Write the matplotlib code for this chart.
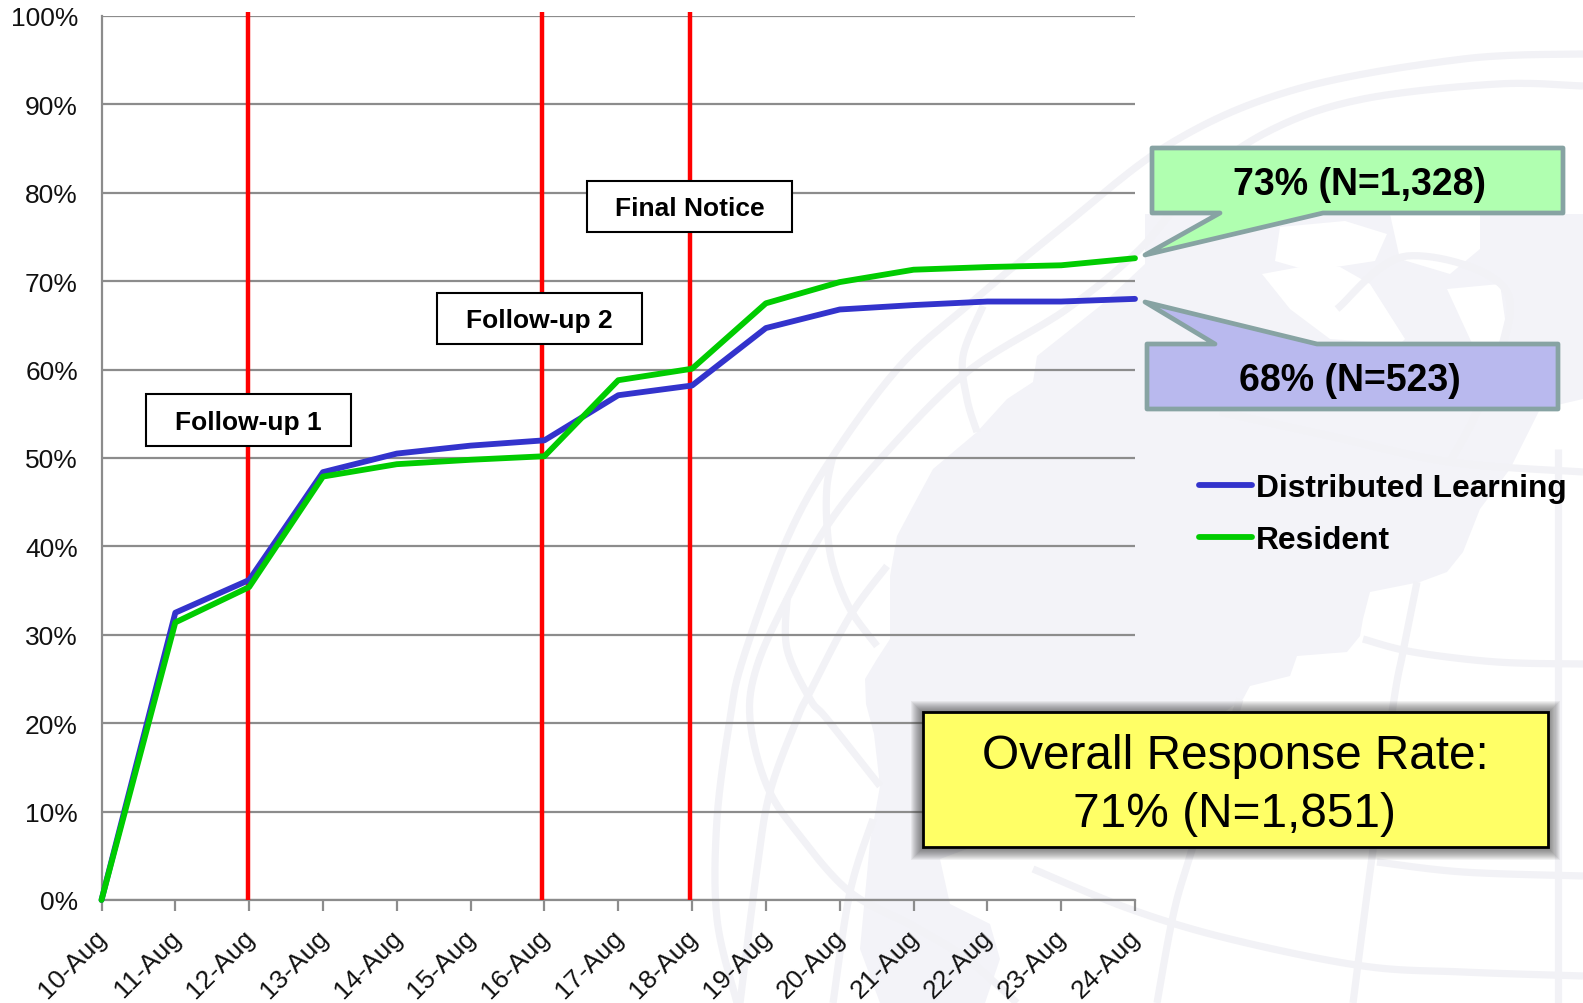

import matplotlib
matplotlib.use("Agg")
import matplotlib.pyplot as plt
from matplotlib.patches import Polygon, Rectangle
from matplotlib.ticker import FixedLocator
from matplotlib.transforms import Affine2D
import numpy as np

plt.rcParams['font.family'] = ['Liberation Sans', 'DejaVu Sans']

dates = ['10-Aug','11-Aug','12-Aug','13-Aug','14-Aug','15-Aug','16-Aug','17-Aug','18-Aug',
         '19-Aug','20-Aug','21-Aug','22-Aug','23-Aug','24-Aug']
distributed = [0, 32.5, 36.2, 48.4, 50.5, 51.4, 52.0, 57.1, 58.2, 64.7, 66.8, 67.3, 67.7, 67.7, 68.0]
resident    = [0, 31.4, 35.4, 47.9, 49.3, 49.8, 50.2, 58.8, 60.1, 67.5, 69.9, 71.3, 71.6, 71.8, 72.6]
followup_pos = [1.99, 5.97, 7.97]
followup_names = ['Follow-up 1', 'Follow-up 2', 'Final Notice']
yticks = list(range(0, 101, 10))

W, H = 1583, 1004
fig = plt.figure(figsize=(W/100, H/100), dpi=100, facecolor='white')

# ---- faint globe watermark, in figure pixels (y down) ----
bg = fig.add_axes([0, 0, 1, 1], zorder=0)
bg.set_xlim(0, W); bg.set_ylim(H, 0); bg.axis('off')
GL = '#f3f3f8'
BAND = '#f2f2f6'

def smooth(pts, n=16):
    p = np.array([pts[0]] + list(pts) + [pts[-1]], dtype=float)
    out = []
    for i in range(1, len(p) - 2):
        for t in np.linspace(0, 1, n, endpoint=False):
            out.append(0.5 * (2*p[i] + (p[i+1]-p[i-1])*t + (2*p[i-1]-5*p[i]+4*p[i+1]-p[i+2])*t*t
                              + (3*p[i]-p[i-1]-3*p[i+1]+p[i+2])*t**3))
    out.append(p[-2])
    return np.array(out)

main_land = [(1037,357),(1033,383),(1007,400),(977,433),(933,470),(913,507),(897,537),(890,577),(890,640),
             (877,660),(865,680),(866,705),(874,735),(880,787),(870,843),(860,950),(880,1004),(985,1004),
             (1000,960),(990,925),(950,905),(940,860),(1100,800),(1243,700),(1250,687),(1290,677),(1297,657),
             (1347,653),(1360,637),(1363,620),(1370,593),(1420,583),(1447,573),(1463,553),(1480,510),
             (1510,470),(1540,410),(1583,400),(1583,215),(1145,215),(1145,265),(1100,307)]
bg.add_patch(Polygon(main_land, closed=True, fc=GL, ec='none'))
white_land = [
    [(1280,228),(1345,222),(1387,235),(1375,262),(1310,272),(1275,262)],
    [(1262,275),(1300,268),(1340,268),(1370,285),(1405,340),(1400,345),(1330,340),(1290,310)],
    [(1447,290),(1500,285),(1505,320),(1490,380),(1470,340)],
    [(1390,215),(1480,215),(1480,250),(1450,275),(1400,260)],
]
for p in white_land:
    bg.add_patch(Polygon(p, closed=True, fc='white', ec='none'))

bands = [
    [(737,1004),(717,920),(717,820),(730,720),(743,660),(787,540),(833,457),(900,367),(967,307),(1060,230),(1173,143),(1297,90),(1463,60),(1583,55)],
    [(1583,87),(1497,85),(1363,100),(1273,130),(1200,180),(1140,250),(1067,310),(967,373),(883,457),(827,527),(787,600),(757,667),(750,720),(767,787),(800,837),(850,893),(913,927),(967,960),(1017,1004)],
    [(983,307),(963,357),(967,400),(977,433)],
    [(833,457),(827,487),(827,527),(833,567),(850,610),(877,647)],
    [(787,600),(787,650),(810,700),(827,720),(880,787)],
    [(887,567),(850,617),(810,693),(797,720),(770,793),(757,870),(740,1004)],
    [(873,820),(850,893),(833,1004)],
    [(1558,450),(1558,1004)],
    [(1417,583),(1403,653),(1393,707),(1370,873),(1353,1004)],
    [(1240,700),(1190,857),(1173,917),(1157,1004)],
    [(1363,640),(1413,653),(1497,663),(1583,665)],
    [(1377,863),(1463,873),(1583,877)],
    [(1033,870),(1130,910),(1230,940),(1363,967),(1463,973),(1583,977)],
    [(1337,310),(1407,257),(1507,293),(1483,397),(1450,463)],
    [(1220,413),(1330,437),(1450,463),(1583,473)],
]
for b in bands:
    s = smooth(b)
    bg.plot(s[:, 0], s[:, 1], color=BAND, lw=5.2, solid_capstyle='butt')

# ---- chart ----
ax = fig.add_axes([101.5/W, 1-901/H, (1135-101.5)/W, (901-17)/H], zorder=2)
ax.patch.set_alpha(0)
x = np.arange(len(dates))
ax.set_xlim(0, len(dates)-1)
ax.set_ylim(0, 100)
ax.yaxis.set_major_locator(FixedLocator(yticks))
ax.set_yticklabels([f'{v}%' for v in yticks], fontsize=19, color='#111111')
ax.set_xticks(x)
ax.set_xticklabels(dates, fontsize=19, rotation=45, ha='right', rotation_mode='anchor', color='#111111')
ax.tick_params(axis='x', length=8, width=1.6, color='#8c8c8c', pad=10)
ax.tick_params(axis='y', length=0, pad=17)
for lab in ax.get_xticklabels():
    lab.set_transform(lab.get_transform() + Affine2D().translate(-7, 0))
ax.grid(axis='y', color='#8c8c8c', lw=1.6)
ax.set_axisbelow(True)
for s in ('top', 'right'):
    ax.spines[s].set_visible(False)
for s in ('left', 'bottom'):
    ax.spines[s].set_color('#8c8c8c'); ax.spines[s].set_linewidth(1.6)

for i in followup_pos:
    ax.plot([i, i], [0, 100.5], color='#ff0000', lw=3.2, clip_on=False, zorder=3, solid_capstyle='butt')
ax.plot(x, distributed, color='#3333cc', lw=4.2, clip_on=False, zorder=4, solid_capstyle='round')
ax.plot(x, resident, color='#00cc00', lw=4.2, clip_on=False, zorder=5, solid_capstyle='round')

# ---- annotation layer, in figure pixels ----
fg = fig.add_axes([0, 0, 1, 1], zorder=3)
fg.set_xlim(0, W); fg.set_ylim(H, 0); fg.axis('off'); fg.patch.set_alpha(0)

for (l, t, r, b), name in zip([(146,395,351,447),(437,294,642,345),(587,182,792,233)], followup_names):
    fg.add_patch(Rectangle((l,t), r-l, b-t, fc='white', ec='black', lw=1.5))
    fg.text((l+r)/2, (t+b)/2+2, name, ha='center', va='center', fontsize=19, fontweight='bold', color='black')

EC = '#87a3a3'
fg.add_patch(Polygon([(1152,149),(1563,149),(1563,214),(1323,214),(1145,256),(1220,214),(1152,214)],
                     closed=True, fc='#b0ffb0', ec=EC, lw=3.4, joinstyle='round'))
fg.text(1360, 185, '73% (N=1,328)', ha='center', va='center', fontsize=27, fontweight='bold', color='black')
fg.add_patch(Polygon([(1147,345),(1215,345),(1145,303),(1317,345),(1558,345),(1558,410),(1147,410)],
                     closed=True, fc='#b9b9ee', ec=EC, lw=3.4, joinstyle='round'))
fg.text(1350, 381, '68% (N=523)', ha='center', va='center', fontsize=27, fontweight='bold', color='black')

for y, c, name in [(486, '#3333cc', 'Distributed Learning'), (538, '#00cc00', 'Resident')]:
    fg.plot([1199, 1252], [y, y], color=c, lw=4.2, solid_capstyle='round')
    fg.text(1256, y+3.5, name, ha='left', va='center', fontsize=22.9, fontweight='bold', color='black')

for g in range(12, 0, -1):
    fg.add_patch(Rectangle((923-g, 713-g+1), 625+2*g, 135+2*g, fc='#303030', ec='none', alpha=0.065))
fg.add_patch(Rectangle((923,713), 625, 135, fc='#ffff66', ec='black', lw=2))
fg.text(1235, 757, 'Overall Response Rate:', ha='center', va='center', fontsize=34.4, color='black')
fg.text(1235, 815, '71% (N=1,851)', ha='center', va='center', fontsize=34.4, color='black')

fig.savefig('out.png', dpi=100, facecolor='white')
